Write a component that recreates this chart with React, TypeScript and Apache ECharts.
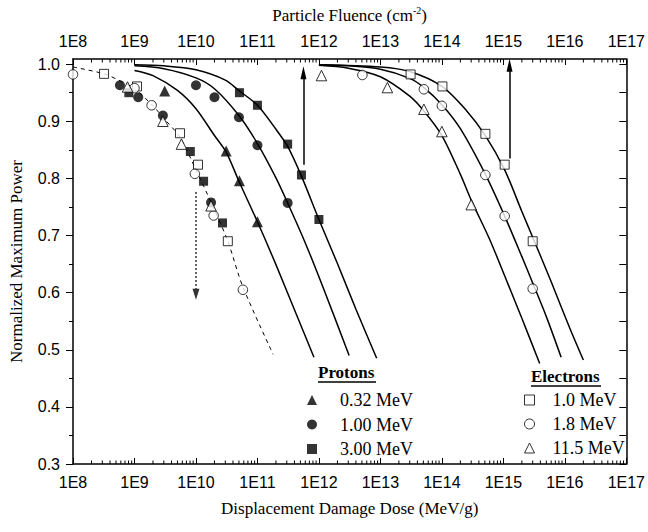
import React, { useEffect, useRef } from 'react';
import * as echarts from 'echarts';

// ---------- axis ranges & ticks ----------
const X_MIN = 1e8;
const X_MAX = 1e17;
const Y_MIN = 0.3;
const Y_MAX = 1.009;

const xTickLabels = ['1E8', '1E9', '1E10', '1E11', '1E12', '1E13', '1E14', '1E15', '1E16', '1E17'];
const xDecades = [8, 9, 10, 11, 12, 13, 14, 15, 16];
const xMinorMultipliers = [2, 3, 4, 5, 6, 7, 8, 9];
const yMajorTicks = [0.3, 0.4, 0.5, 0.6, 0.7, 0.8, 0.9, 1.0];
const yMinorTicks = [0.35, 0.45, 0.55, 0.65, 0.75, 0.85, 0.95];
const yRightTicks = [0.3, 0.35, 0.4, 0.45, 0.5, 0.55, 0.6, 0.65, 0.7, 0.75, 0.8, 0.85, 0.9, 0.95, 1.0];

// ---------- fitted curves ----------
const p032Curve = [[1e9, 0.989], [2e9, 0.98], [5e9, 0.954], [1e10, 0.922], [2e10, 0.875], [3.1e10, 0.846], [5e10, 0.795], [1e11, 0.724], [2e11, 0.649], [4e11, 0.57], [8.3e11, 0.487]];
const p100Curve = [[1e9, 0.997], [3e9, 0.992], [1e10, 0.976], [2e10, 0.957], [5e10, 0.91], [1e11, 0.861], [2e11, 0.801], [3.1e11, 0.757], [6e11, 0.687], [1.2e12, 0.606], [3.1e12, 0.49]];
const p300Curve = [[1e9, 0.999], [3e9, 0.997], [1e10, 0.99], [3e10, 0.972], [5.1e10, 0.953], [1e11, 0.928], [2e11, 0.886], [3.1e11, 0.856], [5.2e11, 0.804], [1e12, 0.728], [2e12, 0.651], [4e12, 0.571], [8.7e12, 0.485]];
const e115Curve = [[1e12, 0.998], [3e12, 0.993], [1e13, 0.978], [3e13, 0.944], [5.1e13, 0.918], [1e14, 0.875], [2e14, 0.807], [3e14, 0.762], [6e14, 0.693], [1.2e15, 0.614], [2e15, 0.555], [3.9e15, 0.476]];
const e18Curve = [[1e12, 0.999], [3e12, 0.997], [1e13, 0.991], [3e13, 0.975], [5.1e13, 0.959], [1e14, 0.929], [2e14, 0.887], [5.1e14, 0.807], [1.05e15, 0.734], [2e15, 0.663], [3e15, 0.617], [5e15, 0.558], [8.7e15, 0.487]];
const e10Curve = [[1e12, 0.999], [1e13, 0.995], [3e13, 0.987], [1e14, 0.961], [2.5e14, 0.919], [5.1e14, 0.875], [1.05e15, 0.815], [2e15, 0.742], [3e15, 0.697], [6e15, 0.619], [1.2e16, 0.538], [2e16, 0.482]];
const dddCurve = [[1e8, 0.995], [3.2e8, 0.983], [6e8, 0.97], [1e9, 0.957], [2e9, 0.927], [3e9, 0.905], [5.5e9, 0.872], [1e10, 0.815], [2e10, 0.745], [3.3e10, 0.69], [5.8e10, 0.61], [1.8e11, 0.492]];

// ---------- measured points vs fluence ----------
const p032Pts = [[3.1e9, 0.953], [3.1e10, 0.848], [5.1e10, 0.796], [1e11, 0.724]];
const p100Pts = [[1e10, 0.963], [2e10, 0.942], [5e10, 0.907], [1e11, 0.858], [3.1e11, 0.757]];
const p300Pts = [[5.1e10, 0.95], [1e11, 0.928], [3.1e11, 0.86], [5.2e11, 0.806], [1e12, 0.728]];
const e10Pts = [[3.1e13, 0.982], [1.02e14, 0.961], [5.1e14, 0.878], [1.05e15, 0.824], [3e15, 0.69]];
const e18Pts = [[5.1e12, 0.981], [5.1e13, 0.956], [1e14, 0.927], [5.1e14, 0.806], [1.05e15, 0.734], [3e15, 0.607]];
const e115Pts = [[1.1e12, 0.98], [1.3e13, 0.959], [5.1e13, 0.921], [1e14, 0.882], [3e14, 0.754]];

// ---------- measured points vs displacement damage dose ----------
const p100Ddd = [[5.8e8, 0.963], [1.15e9, 0.942], [2.9e9, 0.91], [1.76e10, 0.758]];
const p300Ddd = [[8.1e8, 0.95], [8.1e9, 0.847], [1.33e10, 0.795], [2.7e10, 0.722]];
const e10Ddd = [[3.2e8, 0.983], [1.1e9, 0.961], [5.5e9, 0.879], [1.08e10, 0.824], [3.3e10, 0.69]];
const e18Ddd = [[1e8, 0.982], [1e9, 0.958], [1.9e9, 0.928], [9.6e9, 0.808], [1.94e10, 0.735], [5.8e10, 0.605]];
const e115Ddd = [[7.7e8, 0.96], [2.9e9, 0.9], [5.8e9, 0.86], [1.76e10, 0.752]];

// ---------- arrows ----------
const arrowDown = [[1e10, 0.776], [1e10, 0.597]];
const arrowUp1 = [[5.6e11, 0.824], [5.6e11, 0.985]];
const arrowUp2 = [[1.26e15, 0.835], [1.26e15, 0.998]];

const SERIF = '"Liberation Serif", "Times New Roman", serif';
const SANS = '"Liberation Sans", Arial, sans-serif';

const xMinorTicks: number[] = [];
xDecades.forEach((d) => xMinorMultipliers.forEach((m) => xMinorTicks.push(m * Math.pow(10, d))));

const filled = { color: '#000' };
const open = { color: '#fff', borderColor: '#000', borderWidth: 1 };

function curve(data: number[][], dashed = false) {
  return {
    type: 'line',
    xAxisIndex: 0,
    yAxisIndex: 0,
    data,
    smooth: 0.3,
    showSymbol: false,
    symbol: 'none',
    silent: true,
    z: 2,
    lineStyle: { color: '#000', width: dashed ? 1 : 1.5, type: dashed ? [4, 4] : 'solid' },
  };
}

function pts(name: string, data: number[][], symbol: string, size: number, style: any) {
  return {
    type: 'scatter',
    name,
    xAxisIndex: 0,
    yAxisIndex: 0,
    data,
    symbol,
    symbolSize: size,
    itemStyle: style,
    silent: true,
    z: style.color === '#000' ? 3 : 4,
  };
}

function arrow(seg: number[][], dotted: boolean) {
  return {
    type: 'line',
    xAxisIndex: 0,
    yAxisIndex: 0,
    data: [],
    silent: true,
    markLine: {
      silent: true,
      animation: false,
      symbol: ['none', 'triangle'],
      symbolSize: dotted ? [7, 11] : [6, 13],
      label: { show: false },
      lineStyle: { color: dotted ? '#333' : '#000', width: 1.5, type: dotted ? [2, 2] : 'solid' },
      data: [[{ coord: seg[0] }, { coord: seg[1] }]],
    },
  };
}

const xLabelFmt = (v: number) => xTickLabels[Math.round(Math.log10(v)) - 8] || '';

export default function App() {
  const ref = useRef<HTMLDivElement>(null);
  useEffect(() => {
    document.body.style.margin = '0';
    if (!ref.current) return;
    const chart = echarts.init(ref.current, undefined, { renderer: 'svg' });
    const axisLine = { show: true, lineStyle: { color: '#000', width: 1.5 } };
    const xBase = (position: string) => ({
      type: 'log',
      logBase: 10,
      min: X_MIN,
      max: X_MAX,
      position,
      axisLine,
      axisTick: { show: true, inside: true, length: 6, lineStyle: { color: '#000', width: 1 } },
      axisLabel: { formatter: xLabelFmt, fontFamily: SANS, fontSize: 16, color: '#000', margin: 10 },
      splitLine: { show: false },
      minorTick: { show: false },
      nameLocation: 'middle',
    });
    const legendText = { fontFamily: SERIF, fontSize: 18, color: '#000', lineHeight: 18 };
    const option: any = {
      animation: false,
      grid: { left: 72, right: 20, top: 58, bottom: 68, containLabel: false },
      xAxis: [
        {
          ...xBase('bottom'),
          name: 'Displacement Damage Dose (MeV/g)',
          nameGap: 36,
          nameTextStyle: { fontFamily: SERIF, fontSize: 17, color: '#000' },
        },
        {
          ...xBase('top'),
          name: 'Particle Fluence (cm{sup|-2})',
          nameGap: 34,
          nameTextStyle: {
            fontFamily: SERIF,
            fontSize: 17,
            color: '#000',
            lineHeight: 20,
            rich: { sup: { fontFamily: SERIF, fontSize: 10, color: '#000', verticalAlign: 'top', lineHeight: 10 } },
          },
        },
      ],
      yAxis: [
        {
          type: 'value',
          min: Y_MIN,
          max: Y_MAX,
          position: 'left',
          axisLine,
          axisTick: { show: true, inside: false, length: 7, customValues: yMajorTicks, lineStyle: { color: '#000', width: 1 } },
          axisLabel: {
            customValues: yMajorTicks,
            formatter: (v: number) => v.toFixed(1),
            fontFamily: SANS,
            fontSize: 16,
            color: '#000',
            margin: 13,
          },
          splitLine: { show: false },
          name: 'Normalized Maximum Power',
          nameLocation: 'middle',
          nameGap: 48,
          nameTextStyle: { fontFamily: SERIF, fontSize: 17, color: '#000' },
        },
        {
          type: 'value',
          min: Y_MIN,
          max: Y_MAX,
          position: 'left',
          axisLine: { show: false },
          axisTick: { show: true, inside: false, length: 4, customValues: yMinorTicks, lineStyle: { color: '#000', width: 1 } },
          axisLabel: { show: false },
          splitLine: { show: false },
        },
        {
          type: 'value',
          min: Y_MIN,
          max: Y_MAX,
          position: 'right',
          axisLine,
          axisTick: { show: true, inside: true, length: 7, customValues: yRightTicks, lineStyle: { color: '#000', width: 1 } },
          axisLabel: { show: false },
          splitLine: { show: false },
        },
      ],
      legend: [
        {
          data: [
            { name: '0.32 MeV', icon: 'triangle', itemStyle: filled },
            { name: '1.00 MeV', icon: 'circle', itemStyle: filled },
            { name: '3.00 MeV', icon: 'rect', itemStyle: filled },
          ],
          orient: 'vertical',
          left: 307,
          top: 391,
          padding: 0,
          itemWidth: 10,
          itemHeight: 10,
          itemGap: 6.5,
          selectedMode: false,
          textStyle: { ...legendText, padding: [0, 0, 0, 18] },
        },
        {
          data: [
            { name: '1.0 MeV', icon: 'rect', itemStyle: open },
            { name: '1.8 MeV', icon: 'circle', itemStyle: open },
            { name: '11.5 MeV', icon: 'triangle', itemStyle: open },
          ],
          orient: 'vertical',
          left: 524,
          top: 391,
          padding: 0,
          itemWidth: 10,
          itemHeight: 10,
          itemGap: 6,
          selectedMode: false,
          textStyle: { ...legendText, padding: [0, 0, 0, 13] },
        },
      ],
      graphic: [
        { type: 'text', left: 318, top: 364, style: { text: 'Protons', font: `bold 17px ${SERIF}`, fill: '#000' } },
        { type: 'line', shape: { x1: 318, y1: 382, x2: 376, y2: 382 }, style: { stroke: '#000', lineWidth: 1.5 } },
        { type: 'text', left: 531, top: 368, style: { text: 'Electrons', font: `bold 17px ${SERIF}`, fill: '#000' } },
        { type: 'line', shape: { x1: 531, y1: 386, x2: 601, y2: 386 }, style: { stroke: '#000', lineWidth: 1.5 } },
      ],
      series: [
        {
          type: 'custom',
          xAxisIndex: 0,
          yAxisIndex: 0,
          silent: true,
          clip: false,
          z: 1,
          data: xMinorTicks.map((v) => [v, Y_MIN]),
          renderItem: (_p: any, api: any) => {
            const v = api.value(0);
            const b = api.coord([v, Y_MIN]);
            const t = api.coord([v, Y_MAX]);
            return {
              type: 'group',
              children: [
                { type: 'line', shape: { x1: b[0], y1: b[1], x2: b[0], y2: b[1] - 3.5 }, style: { stroke: '#000', lineWidth: 1 } },
                { type: 'line', shape: { x1: t[0], y1: t[1], x2: t[0], y2: t[1] + 3.5 }, style: { stroke: '#000', lineWidth: 1 } },
              ],
            };
          },
        },
        curve(p032Curve),
        curve(p100Curve),
        curve(p300Curve),
        curve(e115Curve),
        curve(e18Curve),
        curve(e10Curve),
        curve(dddCurve, true),
        arrow(arrowDown, true),
        arrow(arrowUp1, false),
        arrow(arrowUp2, false),
        pts('0.32 MeV', p032Pts, 'triangle', 11, filled),
        pts('1.00 MeV', p100Pts, 'circle', 10, filled),
        pts('3.00 MeV', p300Pts, 'rect', 9, filled),
        pts('1.00 MeV', p100Ddd, 'circle', 10, filled),
        pts('3.00 MeV', p300Ddd, 'rect', 9, filled),
        pts('1.0 MeV', e10Pts, 'rect', 9, open),
        pts('1.8 MeV', e18Pts, 'circle', 9.5, open),
        pts('11.5 MeV', e115Pts, 'triangle', 10.5, open),
        pts('1.0 MeV', e10Ddd, 'rect', 9, open),
        pts('1.8 MeV', e18Ddd, 'circle', 9.5, open),
        pts('11.5 MeV', e115Ddd, 'triangle', 10.5, open),
      ],
    };
    chart.setOption(option);
    return () => chart.dispose();
  }, []);
  return <div ref={ref} style={{ width: 648, height: 532 }} />;
}
